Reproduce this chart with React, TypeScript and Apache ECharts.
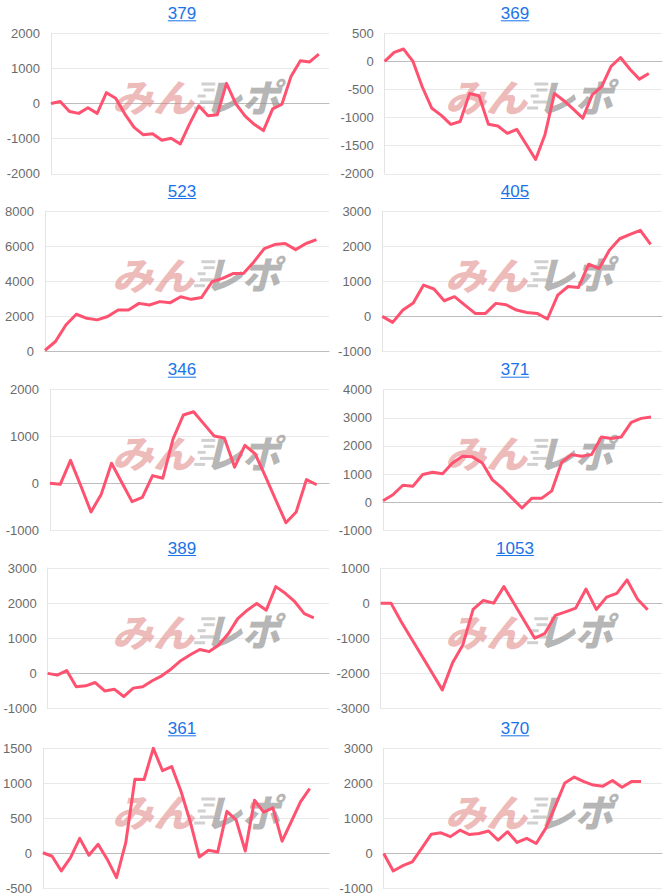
import React, { useEffect, useRef } from 'react';
import * as echarts from 'echarts';

// ---- data ----
const titles = ['379', '369', '523', '405', '346', '371', '389', '1053', '361', '370'];

const s379 = [0, 60, -225, -280, -120, -280, 310, 150, -300, -680, -890, -860, -1045, -990, -1150, -580, -65, -350, -320, 575, 0, -350, -590, -770, -150, -20, 780, 1220, 1185, 1410];
const s369 = [0, 160, 220, 0, -460, -835, -960, -1120, -1070, -570, -610, -1120, -1150, -1280, -1210, -1475, -1745, -1300, -570, -700, -850, -1010, -595, -450, -90, 70, -140, -315, -215];
const s523 = [60, 570, 1510, 2120, 1890, 1800, 1990, 2360, 2360, 2740, 2650, 2840, 2780, 3120, 2970, 3080, 3970, 4160, 4440, 4440, 5100, 5860, 6090, 6150, 5800, 6150, 6370];
const s405 = [0, -170, 180, 380, 890, 780, 445, 560, 320, 85, 85, 370, 330, 180, 110, 85, -75, 605, 850, 820, 1485, 1360, 1880, 2210, 2335, 2450, 2050];
const s346 = [0, -20, 490, -50, -610, -230, 430, 20, -390, -300, 165, 110, 950, 1460, 1530, 1270, 1010, 970, 345, 810, 630, 150, -350, -840, -610, 80, -30];
const s371 = [50, 260, 600, 560, 980, 1060, 1010, 1390, 1630, 1610, 1390, 800, 500, 140, -210, 140, 140, 400, 1420, 1690, 1630, 1690, 2320, 2260, 2320, 2840, 2980, 3030];
const s389 = [0, -50, 80, -380, -355, -260, -500, -450, -660, -420, -380, -210, -70, 125, 360, 530, 680, 620, 810, 1130, 1560, 1800, 1990, 1800, 2470, 2280, 2040, 1700, 1580];
const s1053 = [0, 0, -530, -1015, -1500, -1985, -2470, -1700, -1190, -180, 75, 0, 470, -20, -510, -1000, -860, -350, -250, -140, 400, -180, 170, 280, 660, 120, -190];
const s361 = [10, -40, -250, -60, 215, -25, 130, -85, -345, 150, 1060, 1055, 1500, 1180, 1240, 890, 460, -50, 45, 20, 600, 480, 35, 760, 590, 650, 175, 455, 735, 925];
const s370 = [0, -500, -350, -240, 150, 550, 590, 480, 665, 540, 570, 640, 380, 620, 315, 430, 285, 715, 1350, 2010, 2180, 2050, 1950, 1920, 2080, 1890, 2050, 2050];

const seriesList = [s379, s369, s523, s405, s346, s371, s389, s1053, s361, s370];

const yMins = [-2000, -2000, 0, -1000, -1000, -1000, -1000, -3000, -500, -1000];
const yMaxs = [2000, 500, 8000, 3000, 2000, 4000, 3000, 1000, 1500, 3000];
const yIntervals = [1000, 500, 2000, 1000, 1000, 1000, 1000, 1000, 500, 1000];

// ---- layout ----
const PANEL_W = 333;
const rowTops = [33.3, 211, 389.7, 568, 748.3];
const PLOT_H = 140.5;
const PLOT_RIGHT = 329;
const gridLefts = [51, 51.7, 45, 49.3, 50, 50, 47.7, 47.7, 42.7, 50.7];
const xExtras = [1.1, 1.4, 1.2, 1.1, 1.2, 1.1, 1.6, 1.4, 2.1, 2.2];

const LINE_COLOR = '#ff5270';
const TITLE_COLOR = '#1a73e8';
const FONT = '"Liberation Sans", Arial, Helvetica, sans-serif';
const CJK = '"Noto Sans CJK JP", "Noto Sans", sans-serif';

function buildOption() {
  const grid: any[] = [];
  const xAxis: any[] = [];
  const yAxis: any[] = [];
  const series: any[] = [];
  const elements: any[] = [];

  seriesList.forEach((vals, i) => {
    const col = i % 2;
    const row = Math.floor(i / 2);
    const ox = col * PANEL_W;
    const left = ox + gridLefts[i];
    const top = rowTops[row];
    grid.push({ left, top, width: ox + PLOT_RIGHT - left, height: PLOT_H, containLabel: false });
    xAxis.push({
      gridIndex: i,
      type: 'value',
      min: 0,
      max: vals.length - 1 + xExtras[i],
      axisLine: { show: true, onZero: true, lineStyle: { color: '#bdbdbd', width: 1 } },
      axisTick: { show: false },
      axisLabel: { show: false },
      splitLine: { show: false },
    });
    yAxis.push({
      gridIndex: i,
      type: 'value',
      min: yMins[i],
      max: yMaxs[i],
      interval: yIntervals[i],
      axisLine: { show: true, lineStyle: { color: '#e4e4e4', width: 1 } },
      axisTick: { show: false },
      axisLabel: {
        color: '#6b6b6b',
        fontSize: 13,
        fontFamily: FONT,
        margin: 11,
        formatter: (v: number) => String(v),
      },
      splitLine: { show: true, lineStyle: { color: '#e9e9e9', width: 1 } },
    });
    series.push({
      type: 'line',
      xAxisIndex: i,
      yAxisIndex: i,
      data: vals.map((v, j) => [j, v]),
      showSymbol: false,
      symbol: 'none',
      smooth: false,
      silent: true,
      z: 3,
      lineStyle: { color: LINE_COLOR, width: 3, join: 'round' },
      itemStyle: { color: LINE_COLOR },
    });

    // title + underline
    const cx = ox + 182;
    const cy = top - 20;
    const tw = titles[i].length * 0.556 * 17;
    elements.push({
      type: 'text',
      x: cx,
      y: cy,
      z: 10,
      style: {
        text: titles[i],
        fill: TITLE_COLOR,
        font: `17px ${FONT}`,
        textAlign: 'center',
        textVerticalAlign: 'middle',
        align: 'center',
        verticalAlign: 'middle',
      },
    });
    elements.push({
      type: 'line',
      z: 10,
      shape: { x1: cx - tw / 2, y1: cy + 7.5, x2: cx + tw / 2, y2: cy + 7.5 },
      style: { stroke: TITLE_COLOR, lineWidth: 1 },
    });

    // watermark
    const wy = top + 61.7;
    const wx = ox + 112;
    elements.push({
      type: 'text',
      x: wx,
      y: wy,
      z: 1,
      scaleX: 1.08,
      style: {
        text: 'みん',
        fill: 'rgba(224,128,128,0.55)',
        font: `italic 900 38px ${CJK}`,
        textAlign: 'left',
        textVerticalAlign: 'middle',
        align: 'left',
        verticalAlign: 'middle',
      },
    });
    [-11, -5, 1, 7, 13].forEach((dy, k) => {
      elements.push({
        type: 'rect',
        z: 1,
        shape: { x: wx + 86 + (k % 2) * 4 - dy * 0.3, y: wy + dy - 1.5, width: 14 - (k % 3) * 3, height: 3 },
        style: { fill: 'rgba(170,170,170,0.55)' },
      });
    });
    elements.push({
      type: 'text',
      x: wx + 92,
      y: wy,
      z: 1,
      scaleX: 1.0,
      style: {
        text: 'レポ',
        fill: 'rgba(145,145,145,0.68)',
        font: `italic 900 38px ${CJK}`,
        textAlign: 'left',
        textVerticalAlign: 'middle',
        align: 'left',
        verticalAlign: 'middle',
      },
    });
  });

  return {
    animation: false,
    backgroundColor: '#ffffff',
    grid,
    xAxis,
    yAxis,
    series,
    graphic: { elements },
  };
}

export default function App() {
  const ref = useRef<HTMLDivElement>(null);
  useEffect(() => {
    document.body.style.margin = '0';
    const chart = echarts.init(ref.current as HTMLDivElement, null, { renderer: 'svg' });
    chart.setOption(buildOption());
    return () => chart.dispose();
  }, []);
  return <div ref={ref} style={{ width: 666, height: 895 }} />;
}
